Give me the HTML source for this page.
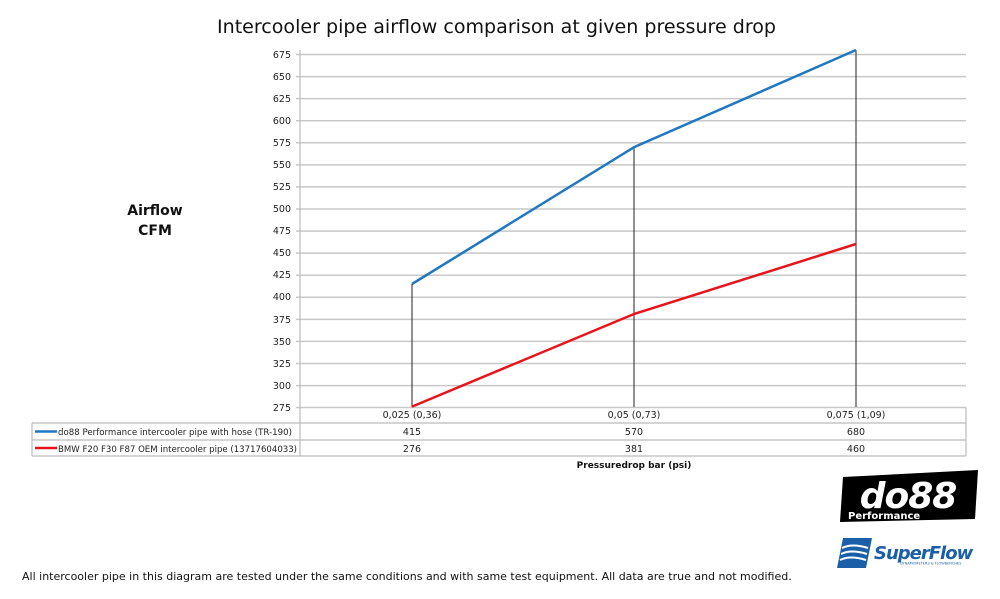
<!DOCTYPE html>
<html><head><meta charset="utf-8"><style>
body{margin:0;background:#fff;}
text{font-family:"DejaVu Sans","Liberation Sans",sans-serif;}
</style></head><body>
<svg width="1000" height="594" viewBox="0 0 1000 594" xmlns="http://www.w3.org/2000/svg">
<rect width="1000" height="594" fill="#fff"/>
<text x="217" y="33" font-size="19" textLength="559" lengthAdjust="spacingAndGlyphs" fill="#111">Intercooler pipe airflow comparison at given pressure drop</text>
<text x="155" y="215" font-size="14" font-weight="bold" text-anchor="middle" fill="#111">Airflow</text>
<text x="155" y="235" font-size="14" font-weight="bold" text-anchor="middle" fill="#111">CFM</text>
<g stroke="#c8c8c8" stroke-width="1.5">
<line x1="296" y1="54.5" x2="966" y2="54.5"/><line x1="296" y1="76.6" x2="966" y2="76.6"/><line x1="296" y1="98.6" x2="966" y2="98.6"/><line x1="296" y1="120.7" x2="966" y2="120.7"/><line x1="296" y1="142.8" x2="966" y2="142.8"/><line x1="296" y1="164.9" x2="966" y2="164.9"/><line x1="296" y1="186.9" x2="966" y2="186.9"/><line x1="296" y1="209" x2="966" y2="209"/><line x1="296" y1="231.1" x2="966" y2="231.1"/><line x1="296" y1="253.1" x2="966" y2="253.1"/><line x1="296" y1="275.2" x2="966" y2="275.2"/><line x1="296" y1="297.3" x2="966" y2="297.3"/><line x1="296" y1="319.4" x2="966" y2="319.4"/><line x1="296" y1="341.4" x2="966" y2="341.4"/><line x1="296" y1="363.5" x2="966" y2="363.5"/><line x1="296" y1="385.6" x2="966" y2="385.6"/><line x1="296" y1="407.5" x2="966" y2="407.5"/>
</g>
<g font-size="9.5" text-anchor="end" fill="#222">
<text x="291" y="58">675</text><text x="291" y="80">650</text><text x="291" y="102">625</text><text x="291" y="124">600</text><text x="291" y="146">575</text><text x="291" y="168">550</text><text x="291" y="190">525</text><text x="291" y="212">500</text><text x="291" y="234">475</text><text x="291" y="256">450</text><text x="291" y="278">425</text><text x="291" y="300">400</text><text x="291" y="323">375</text><text x="291" y="345">350</text><text x="291" y="367">325</text><text x="291" y="389">300</text><text x="291" y="411">275</text>
</g>
<g stroke="#bbb" stroke-width="1.2" fill="none">
<line x1="300" y1="50" x2="300" y2="456"/>
<line x1="966" y1="407.5" x2="966" y2="456"/>
<line x1="32" y1="423" x2="966" y2="423"/>
<line x1="32" y1="440" x2="966" y2="440"/>
<line x1="32" y1="456" x2="966" y2="456"/>
<line x1="32" y1="423" x2="32" y2="456"/>
</g>
<g stroke="#222" stroke-width="1">
<line x1="412" y1="284" x2="412" y2="407"/>
<line x1="634" y1="147" x2="634" y2="407"/>
<line x1="856" y1="50" x2="856" y2="407"/>
</g>
<polyline points="412,284 634,147.2 856,50" fill="none" stroke="#1f78c1" stroke-width="2.5"/>
<polyline points="412,406.6 634,314 856,244" fill="none" stroke="#e8141b" stroke-width="2.5"/>
<g font-size="9.5" text-anchor="middle" fill="#222">
<text x="412" y="418">0,025 (0,36)</text><text x="634" y="418">0,05 (0,73)</text><text x="856" y="418">0,075 (1,09)</text>
<text x="412" y="435">415</text><text x="634" y="435">570</text><text x="856" y="435">680</text>
<text x="412" y="452">276</text><text x="634" y="452">381</text><text x="856" y="452">460</text>
</g>
<line x1="35" y1="431.5" x2="57" y2="431.5" stroke="#1f78c1" stroke-width="2.5"/>
<line x1="35" y1="448" x2="57" y2="448" stroke="#e8141b" stroke-width="2.5"/>
<text x="58" y="435" font-size="9.2" textLength="234" lengthAdjust="spacingAndGlyphs" fill="#222">do88 Performance intercooler pipe with hose (TR-190)</text>
<text x="58" y="452" font-size="9.2" textLength="239" lengthAdjust="spacingAndGlyphs" fill="#222">BMW F20 F30 F87 OEM intercooler pipe (13717604033)</text>
<text x="634" y="468" font-size="9" font-weight="bold" text-anchor="middle" fill="#111">Pressuredrop bar (psi)</text>
<polygon points="843,477 978,470 975,519 840,522" fill="#000"/>
<text x="908" y="508" font-size="36" font-weight="bold" font-style="italic" text-anchor="middle" fill="#fff" letter-spacing="-1">do88</text>
<text x="848" y="519" font-size="10" font-weight="bold" fill="#fff">Performance</text>
<polygon points="843,538 872,538 866,568 837,568" fill="#1a5fa8"/>
<path d="M842,548 q10,-5 26,0 M841,554 q10,-5 26,0 M840,560 q10,-5 26,0" stroke="#fff" stroke-width="2" fill="none"/>
<text x="874" y="559" font-size="18" font-weight="bold" font-style="italic" fill="#1a5fa8" letter-spacing="-1">SuperFlow</text>
<text x="900" y="564.5" font-size="3.5" fill="#1a5fa8">DYNAMOMETERS &amp; FLOWBENCHES</text>
<text x="22" y="580" font-size="11" fill="#111">All intercooler pipe in this diagram are tested under the same conditions and with same test equipment. All data are true and not modified.</text>
</svg>
</body></html>
